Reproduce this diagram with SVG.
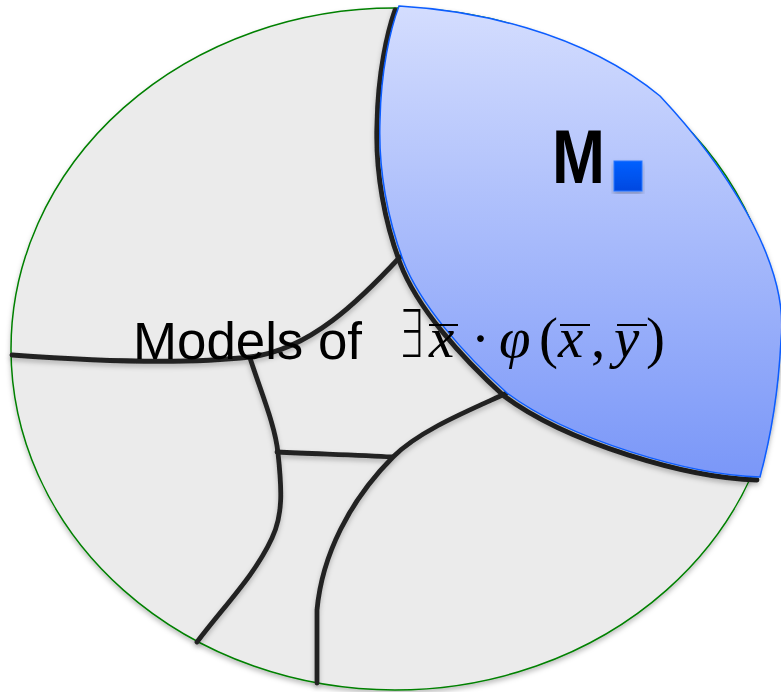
<svg xmlns="http://www.w3.org/2000/svg" width="781" height="692" viewBox="0 0 781 692">
<style>
.bd{fill:none;stroke:#222;stroke-width:4.8;stroke-linecap:round}
.mt{font-family:"Liberation Serif",serif;font-size:57px;fill:#000}
.it{font-style:italic}
.ov{stroke:#000;stroke-width:2}
</style>
<defs>
<filter id="sh" x="-10%" y="-10%" width="120%" height="120%">
<feDropShadow dx="0" dy="3" stdDeviation="2.5" flood-color="#000" flood-opacity="0.25"/>
</filter>
<linearGradient id="lg" x1="0" y1="0" x2="0" y2="1">
<stop offset="0" stop-color="#d4ddfe"/>
<stop offset="1" stop-color="#7a97f8"/>
</linearGradient>
<linearGradient id="sq" x1="0" y1="0" x2="0" y2="1">
<stop offset="0" stop-color="#0060ff"/>
<stop offset="1" stop-color="#0048e0"/>
</linearGradient>
</defs>
<g id="universe" filter="url(#sh)">
<ellipse cx="395" cy="349" rx="384" ry="341" fill="#ebebeb" stroke="#008000" stroke-width="1.5"/>
</g>
<g id="connectors" filter="url(#sh)">
<path class="bd" d="M12,355 C80,360 180,365 250,357 C310,350 360,300 400,257"/>
<path class="bd" d="M250,358 C262,395 275,425 278,453 C282,490 283,515 272,538 C255,575 225,605 197,642"/>
<path class="bd" d="M277,452 C320,454 360,455 392,457"/>
<path class="bd" d="M507,393 C470,410 420,430 393,457 C350,500 322,555 317,610 L317,683"/>
<path class="bd" d="M757,480 C687,478 567,443 504,396 C462,358 417,308 400,263 C385,223 375,173 377,123 C378,73 387,33 395,10"/>
</g>
<g id="lens" filter="url(#sh)">
<path d="M399,6 C470,10 580,30 660,96 C720,160 790,260 781,340 C778,400 770,440 760,477 C690,475 570,440 507,393 C465,355 420,305 403,260 C388,220 378,170 380,120 C381,70 390,30 399,6 Z" fill="url(#lg)" stroke="#0a5cff" stroke-width="1.5"/>
</g>
<g id="m-label">
<text x="552" y="183" font-family="'Liberation Sans',Arial,sans-serif" font-weight="bold" font-size="76" textLength="53" lengthAdjust="spacingAndGlyphs">M</text>
<rect x="614" y="161" width="28" height="30" fill="url(#sq)" stroke="#2a78ff" stroke-width="1" filter="url(#sh)"/>
</g>
<g id="caption">
<text x="133" y="359" font-family="'Liberation Sans',Arial,sans-serif" font-size="51" textLength="229" lengthAdjust="spacingAndGlyphs">Models of</text>
<text x="398" y="357" font-family="'DejaVu Sans',sans-serif" font-weight="200" font-size="66" textLength="26" lengthAdjust="spacingAndGlyphs">∃</text>
<text class="mt it" x="429" y="357">x</text>
<line class="ov" x1="429" y1="325" x2="458" y2="325"/>
<text class="mt" x="471" y="358">·</text>
<text class="mt it" x="499" y="357">φ</text>
<text class="mt" x="539" y="357">(</text>
<text class="mt it" x="558" y="357">x</text>
<line class="ov" x1="560" y1="325" x2="590" y2="325"/>
<text class="mt" x="591" y="357">,</text>
<text class="mt it" x="614" y="357">y</text>
<line class="ov" x1="617" y1="325" x2="647" y2="325"/>
<text class="mt" x="646" y="357">)</text>
</g>
</svg>
